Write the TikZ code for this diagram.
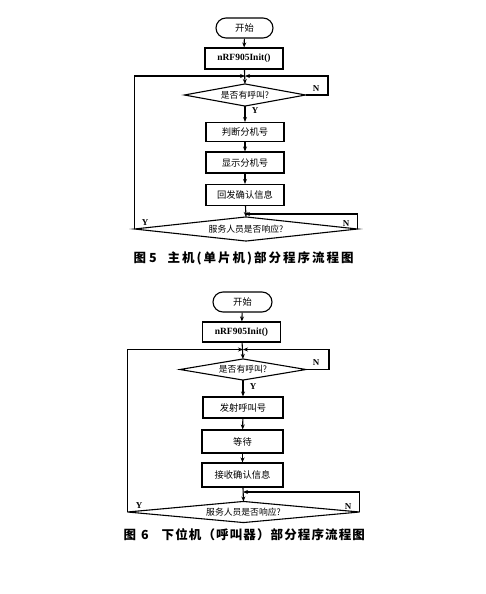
\documentclass[tikz,border=0pt]{standalone}
\usepackage{fontspec}
\setmainfont{Liberation Serif}
\newfontfamily\cjk{Noto Sans CJK SC}
\usetikzlibrary{arrows.meta}
\tikzset{
  flowbox/.style={draw, rectangle, minimum width=78pt, minimum height=21pt, inner sep=0pt,
    font=\cjk\fontsize{9.3}{9.3}\selectfont},
  termbox/.style={draw, rectangle, rounded corners=10pt, minimum width=57pt, minimum height=20pt, inner sep=0pt,
    font=\cjk\fontsize{9.3}{9.3}\selectfont},
  initbox/.style={flowbox, font=\bfseries\fontsize{9.5}{9.5}\selectfont},
  decbox/.style={rectangle, minimum height=21pt, inner sep=0pt,
    font=\cjk\fontsize{8.8}{8.8}\selectfont},
  yn/.style={font=\bfseries\fontsize{9}{9}\selectfont, inner sep=0pt},
  caption/.style={anchor=west, inner sep=0pt, font=\cjk\bfseries\fontsize{12.5}{12.5}\selectfont\addfontfeature{LetterSpace=9}},
  flow/.style={-{Stealth[length=5pt,width=4pt]}},
}
\begin{document}
\begin{tikzpicture}[x=1pt,y=-1pt,line width=1.1pt]
\useasboundingbox (0,0) rectangle (485,594);
% ---------- top diagram ----------
\node[termbox] (t1) at (244.5,28) {开始};
\node[initbox] (i1) at (244,58.5) {nRF905Init()};
\coordinate (m1) at (245,76);
\node[decbox, minimum width=120pt] (d1) at (245,95) {是否有呼叫?};
\draw (d1.north) -- (d1.east) -- (d1.south) -- (d1.west) -- cycle;
\node[flowbox, minimum height=19pt] (b1) at (245,132) {判断分机号};
\node[flowbox] (b2) at (245,162.5) {显示分机号};
\node[flowbox] (b3) at (245,195) {回发确认信息};
\coordinate (m2) at (245,214);
\node[decbox, minimum width=222pt, minimum height=23pt] (d2) at (246,229) {服务人员是否响应?};
\draw (d2.north) -- (d2.east) -- (d2.south) -- (d2.west) -- cycle;
\coordinate (r1) at (328,95);
\coordinate (r1t) at (328,76);
\coordinate (l1b) at (d2.west |- m1);
\coordinate (r2t) at (d2.east |- m2);
\draw[flow] (t1) -- (i1);
\draw[flow] (i1) -- (d1.north);
\draw[flow] (d1) -- (b1);
\draw[flow] (b1) -- (b2);
\draw[flow] (b2) -- (b3);
\draw[flow] (b3) -- (d2.north);
\draw[flow] (d1.east) -- (r1) -- (r1t) -- (m1);
\draw[flow] (d2.west) -- (l1b) -- (m1);
\draw[flow] (d2.east) -- (r2t) -- (m2);
\node[yn] (n1) at (316,89) {N};
\node[yn] (y1) at (255,111) {Y};
\node[yn] (y2) at (145,223) {Y};
\node[yn] (n2) at (346,224) {N};
\node[caption, font=\cjk\bfseries\fontsize{12.5}{12.5}\selectfont\addfontfeature{LetterSpace=16}] (cap1) at (133,258) {图\hspace{3pt}5\hspace{11pt}主机(单片机)部分程序流程图};
% ---------- bottom diagram ----------
\node[termbox, minimum width=59pt] (t2) at (242.5,302) {开始};
\node[initbox, minimum height=20pt] (i2) at (241.5,332) {nRF905Init()};
\coordinate (m3) at (243,349.5);
\node[decbox, minimum width=125pt, minimum height=20pt] (d3) at (243,369.5) {是否有呼叫?};
\draw (d3.north) -- (d3.east) -- (d3.south) -- (d3.west) -- cycle;
\node[flowbox, minimum width=80pt] (b4) at (243,407.5) {发射呼叫号};
\node[flowbox, minimum width=81pt, minimum height=23pt] (b5) at (242.5,441.5) {等待};
\node[flowbox, minimum width=81pt, minimum height=24pt] (b6) at (242.5,475) {接收确认信息};
\coordinate (m4) at (243,492);
\node[decbox, minimum width=231pt, minimum height=20pt] (d4) at (243.5,512) {服务人员是否响应?};
\draw (d4.north) -- (d4.east) -- (d4.south) -- (d4.west) -- cycle;
\coordinate (r3) at (329,369.5);
\coordinate (r3t) at (329,349.5);
\coordinate (l3b) at (d4.west |- m3);
\coordinate (r4t) at (d4.east |- m4);
\draw[flow] (t2) -- (i2);
\draw[flow] (i2) -- (d3.north);
\draw[flow] (d3) -- (b4);
\draw[flow] (b4) -- (b5);
\draw[flow] (b5) -- (b6);
\draw[flow] (b6) -- (d4.north);
\draw[flow] (d3.east) -- (r3) -- (r3t) -- (m3);
\draw[flow] (d4.west) -- (l3b) -- (m3);
\draw[flow] (d4.east) -- (r4t) -- (m4);
\node[yn] (n3) at (316,363) {N};
\node[yn] (y3) at (253,387) {Y};
\node[yn] (y4) at (139,506) {Y};
\node[yn] (n4) at (348,507) {N};
\node[caption] (cap2) at (123,535) {图\hspace{5pt}6\hspace{13pt}下位机（呼叫器）部分程序流程图};
\end{tikzpicture}
\end{document}
